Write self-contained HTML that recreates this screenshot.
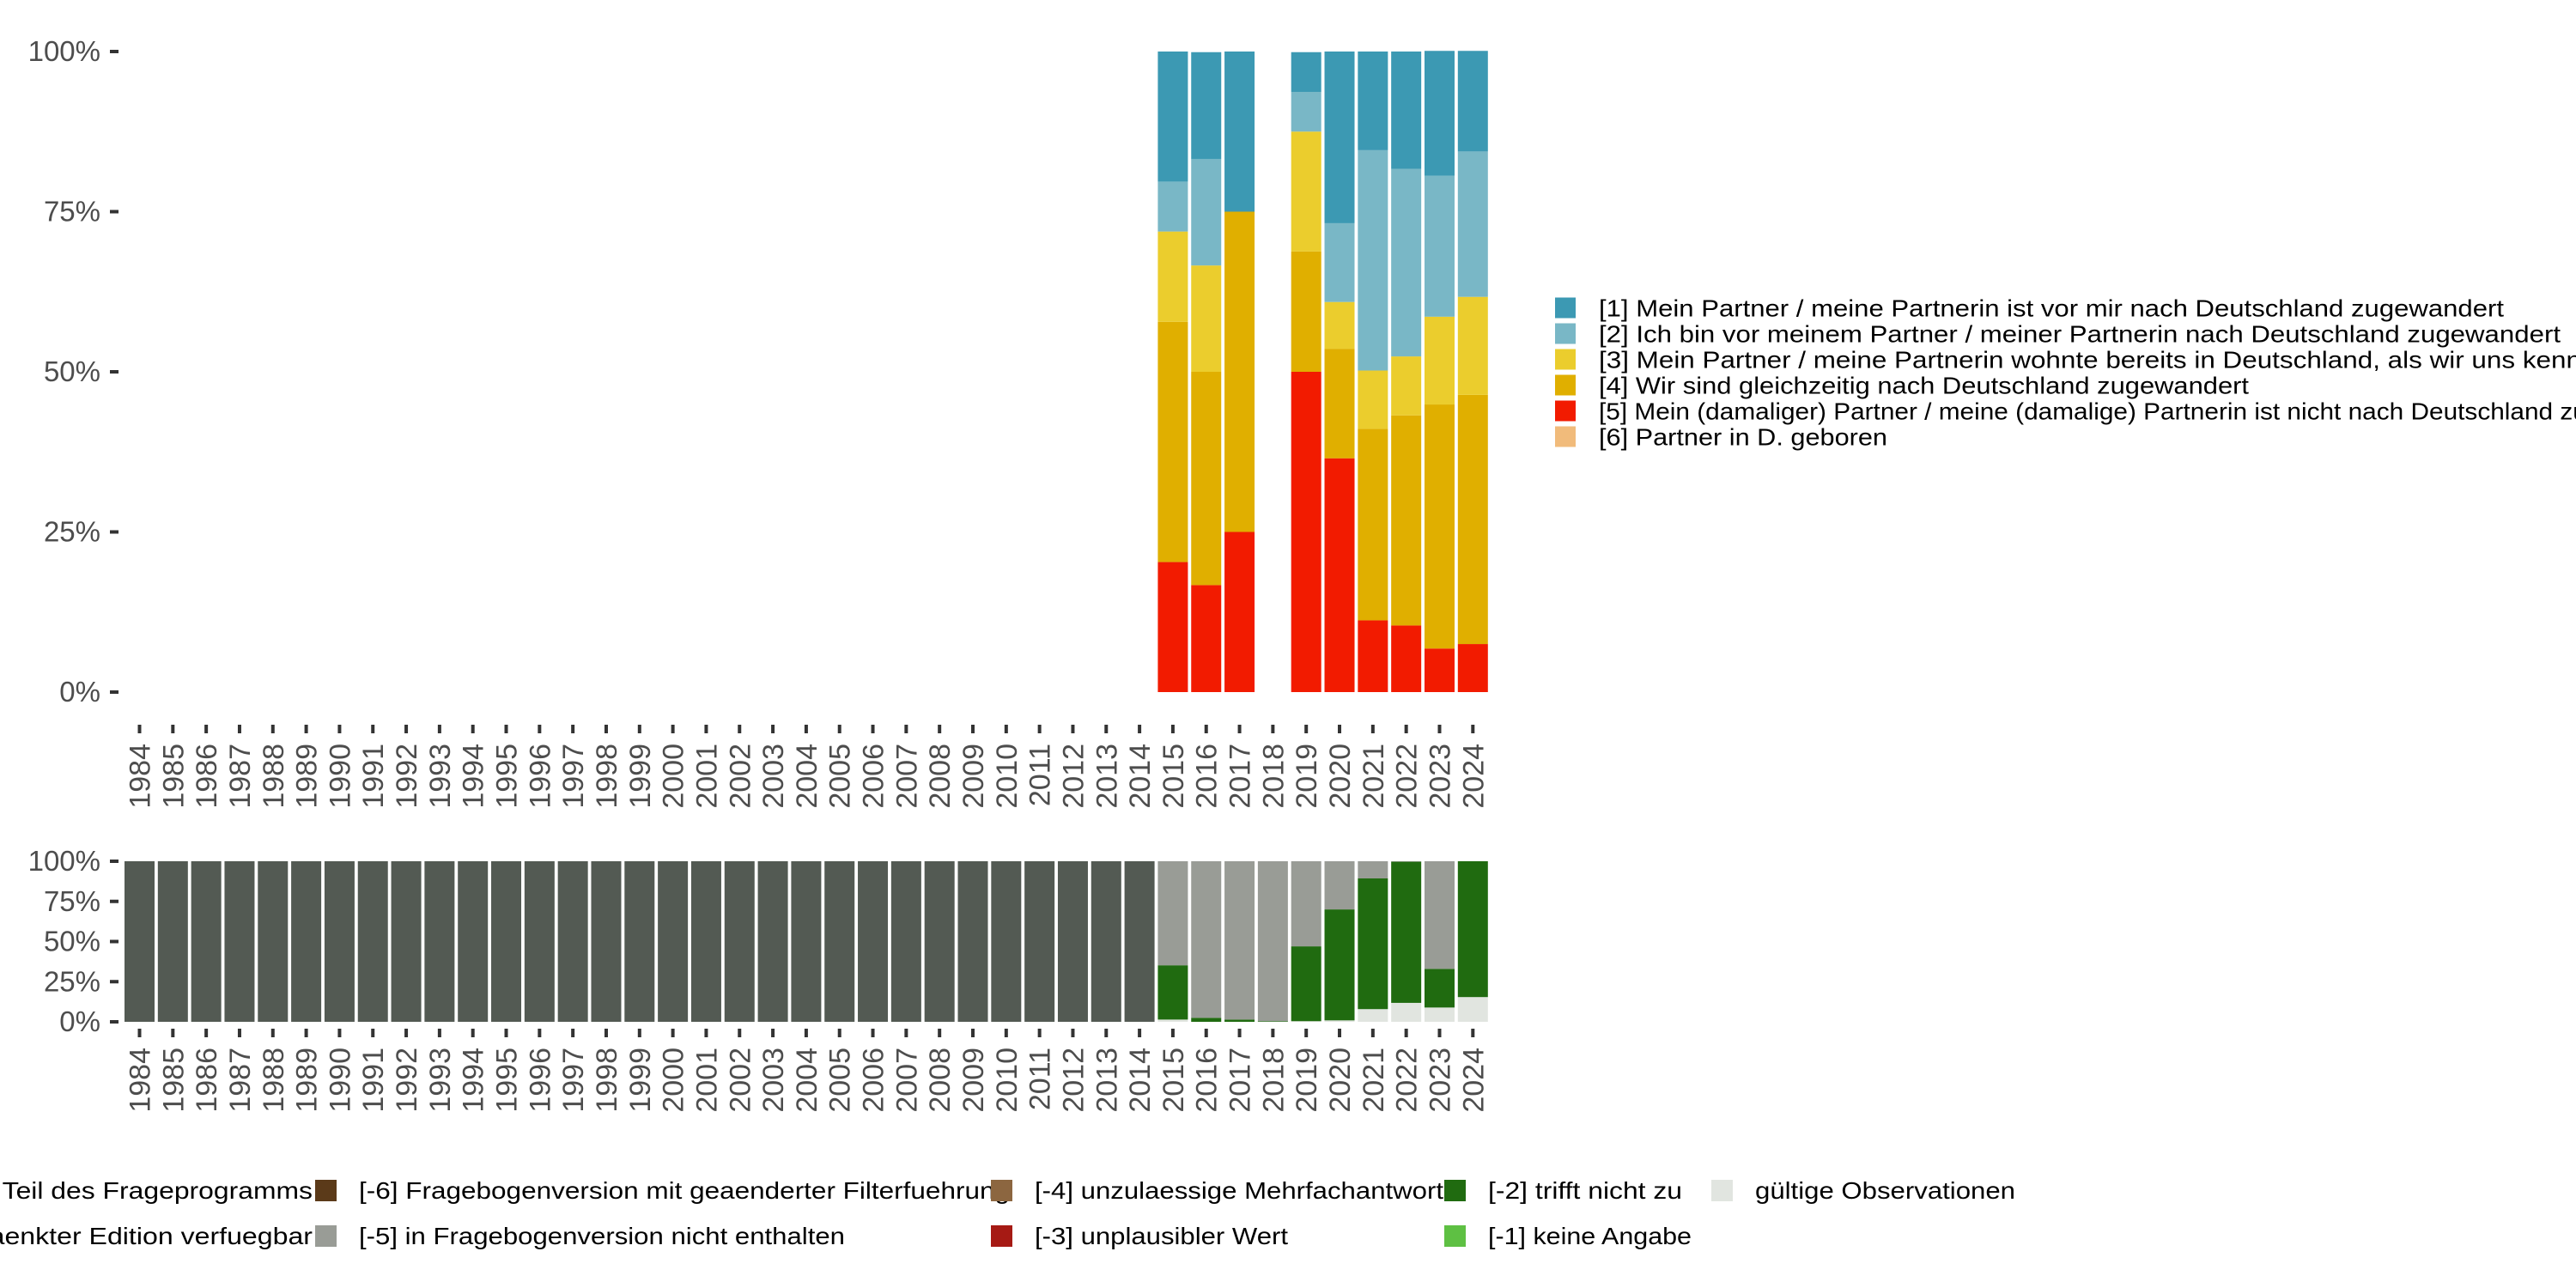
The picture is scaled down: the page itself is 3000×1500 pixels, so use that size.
<!DOCTYPE html>
<html><head><meta charset="utf-8"><style>
html,body{margin:0;padding:0;background:#fff;}
svg{display:block;font-family:"Liberation Sans",sans-serif;}
</style></head><body>
<svg id="chart" width="3000" height="1500" viewBox="0 0 3000 1500" xmlns="http://www.w3.org/2000/svg">
<g id="topPanel"></g>
<g id="bottomPanel"></g>
<g id="legend1"></g>
<g id="legend2"></g>
</svg>
<script>
const years = [];
for (let y = 1984; y <= 2024; y++) years.push(y);
const topYears = [2015, 2016, 2017, 2019, 2020, 2021, 2022, 2023, 2024];
const s5 = [20.3, 16.7, 25, 50, 36.5, 11.2, 10.4, 6.8, 7.5];
const s4 = [37.5, 33.3, 50, 18.8, 17.1, 29.9, 32.8, 38.1, 38.9];
const s3 = [14.1, 16.6, 0, 18.7, 7.3, 9.1, 9.2, 13.7, 15.3];
const s2 = [7.8, 16.6, 0, 6.2, 12.3, 34.4, 29.3, 22.0, 22.7];
const s1 = [20.3, 16.7, 25, 6.2, 26.8, 15.4, 18.3, 19.5, 15.7];
const s6 = [0, 0, 0, 0, 0, 0, 0, 0, 0];
const botYears = [2015, 2016, 2017, 2018, 2019, 2020, 2021, 2022, 2023, 2024];
const bValid = [1.4, 0, 0, 0, 0.4, 0.9, 7.9, 11.8, 8.9, 15.4];
const bNotApply = [33.8, 2.5, 1.4, 0.4, 46.6, 69.1, 81.4, 87.9, 24.1, 84.6];
const bNoVersion = [64.8, 97.5, 98.6, 99.6, 53, 30, 10.7, 0.3, 67, 0];
const yTicks = [0, 25, 50, 75, 100];
const yTickLabels = ['0%', '25%', '50%', '75%', '100%'];

const NS = 'http://www.w3.org/2000/svg';
function mk(tag, attrs, parent) {
  const e = document.createElementNS(NS, tag);
  for (const k in attrs) e.setAttribute(k, attrs[k]);
  parent.appendChild(e);
  return e;
}
const STEP = 38.82, BW = 35, X0 = 162.5;
function xScale(yr) { return X0 + (yr - 1984) * STEP; }
function yTop(v) { return 806 - v / 100 * 746; }
function yBot(v) { return 1190 - v / 100 * 187; }

function axes(g, yS, tickY, labY, prefix) {
  yTicks.forEach((t, i) => {
    const r = mk('rect', {x: 128, y: yS(t) - 2, width: 10, height: 4, fill: '#333'}, g);
    
    
    const tx = mk('text', {x: 117, y: yS(t) + 11, 'text-anchor': 'end', 'font-size': 33, fill: '#4d4d4d'}, g);
    tx.textContent = yTickLabels[i];
    
    
  });
  years.forEach(yr => {
    const cx = xScale(yr);
    const r = mk('rect', {x: cx - 2, y: tickY, width: 4, height: 10, fill: '#333'}, g);
    
    
    const tx = mk('text', {x: 0, y: 0, 'text-anchor': 'end', 'font-size': 34, fill: '#4d4d4d',
      transform: 'translate(' + (cx + 12) + ',' + labY + ') rotate(-90)'}, g);
    tx.textContent = yr;
    
    
  });
}

const topG = document.getElementById('topPanel');
axes(topG, yTop, 844, 866, 'top');
const topSeries = [s5, s4, s3, s2, s1, s6];
const topColors = ['#f21b00', '#e0af00', '#ebcd2d', '#79b7c6', '#3c99b3', '#f1bb7b'];
const topNames = ['seg-5', 'seg-4', 'seg-3', 'seg-2', 'seg-1', 'seg-6'];
topYears.forEach((yr, i) => {
  let acc = 0;
  topSeries.forEach((s, k) => {
    const v = s[i];
    if (v > 0) {
      const r = mk('rect', {x: xScale(yr) - BW / 2, y: yTop(acc + v), width: BW, height: yTop(acc) - yTop(acc + v), fill: topColors[k]}, topG);
      
      
    }
    acc += v;
  });
});

const botG = document.getElementById('bottomPanel');
axes(botG, yBot, 1198, 1220, 'bottom');
years.forEach(yr => {
  const i = botYears.indexOf(yr);
  let segs;
  if (i < 0) segs = [[100, '#535a53', 'not-in-program']];
  else segs = [[bValid[i], '#e1e5e0', 'valid'], [bNotApply[i], '#206b10', 'not-apply'], [bNoVersion[i], '#999c96', 'not-in-version']];
  let acc = 0;
  segs.forEach(sg => {
    const v = sg[0];
    if (v > 0) {
      const r = mk('rect', {x: xScale(yr) - BW / 2, y: yBot(acc + v), width: BW, height: yBot(acc) - yBot(acc + v), fill: sg[1]}, botG);
      
      
    }
    acc += v;
  });
});

const lg1 = document.getElementById('legend1');
const l1Text = ['[1] Mein Partner / meine Partnerin ist vor mir nach Deutschland zugewandert',
  '[2] Ich bin vor meinem Partner / meiner Partnerin nach Deutschland zugewandert',
  '[3] Mein Partner / meine Partnerin wohnte bereits in Deutschland, als wir uns kennenlernten',
  '[4] Wir sind gleichzeitig nach Deutschland zugewandert',
  '[5] Mein (damaliger) Partner / meine (damalige) Partnerin ist nicht nach Deutschland zugewandert',
  '[6] Partner in D. geboren'];
const l1Col = ['#3c99b3', '#79b7c6', '#ebcd2d', '#e0af00', '#f21b00', '#f1bb7b'];
const l1W = [1054, 1120, 1275, 757, 1290, 336];
l1Text.forEach((t, i) => {
  const cy = 358.5 + i * 30;
  const r = mk('rect', {x: 1811, y: cy - 12, width: 24, height: 24, fill: l1Col[i]}, lg1);
  
  
  const tx = mk('text', {x: 1862, y: cy + 10, 'font-size': 28, fill: '#000', textLength: l1W[i], lengthAdjust: 'spacingAndGlyphs'}, lg1);
  tx.textContent = t;
  
  
});

const lg2 = document.getElementById('legend2');
const l2 = [
  [364, 1386, null, '[-8] Frage nicht Teil des Frageprogramms', 'end', 584],
  [364, 1439, null, '[-7] nur in eingeschraenkter Edition verfuegbar', 'end', 660],
  [418, 1386, '#5b3a19', '[-6] Fragebogenversion mit geaenderter Filterfuehrung', 'start', 758],
  [418, 1439, '#999c96', '[-5] in Fragebogenversion nicht enthalten', 'start', 566],
  [1205, 1386, '#8c6640', '[-4] unzulaessige Mehrfachantwort', 'start', 476],
  [1205, 1439, '#a61a14', '[-3] unplausibler Wert', 'start', 295],
  [1733, 1386, '#206b10', '[-2] trifft nicht zu', 'start', 226],
  [1733, 1439, '#5ec043', '[-1] keine Angabe', 'start', 237],
  [2044, 1386, '#e1e5e0', 'gültige Observationen', 'start', 303]
];
l2.forEach(it => {
  if (it[2]) {
    const r = mk('rect', {x: it[0] - 51, y: it[1] - 12, width: 25, height: 25, fill: it[2]}, lg2);
    
    
  }
  const attrs = {x: it[0], y: it[1] + 10, 'font-size': 28, fill: '#000', 'text-anchor': it[4]};
  if (it[5]) { attrs.textLength = it[5]; attrs.lengthAdjust = 'spacingAndGlyphs'; }
  const tx = mk('text', attrs, lg2);
  tx.textContent = it[3];
  
  
});
</script>
</body></html>
